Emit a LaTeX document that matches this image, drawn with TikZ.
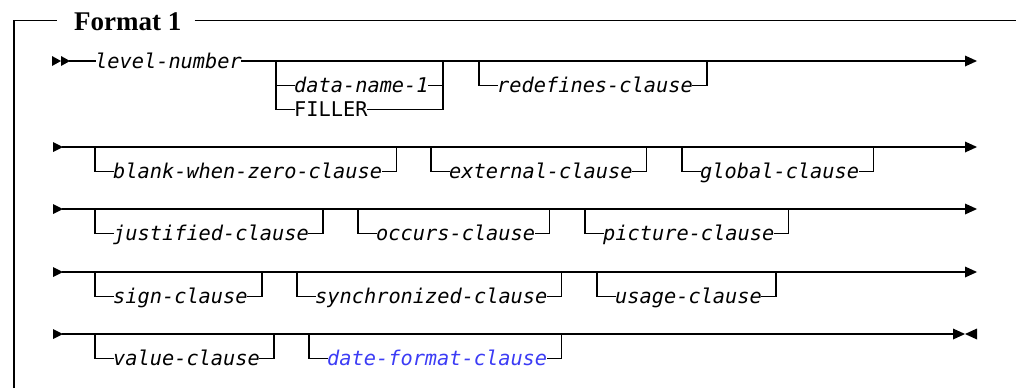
\documentclass[tikz,border=0pt]{standalone}
\usepackage{fontspec}
\newfontfamily\synfont{DejaVu Sans Mono}
\newfontfamily\ttlfont{Liberation Serif}
\definecolor{linkblue}{RGB}{60,60,245}
\tikzset{
  lbl/.style={font=\synfont\itshape\fontsize{20.3}{24}\selectfont, inner sep=0pt,
              text height=14pt, text depth=0pt, anchor=west},
  kw/.style={lbl, font=\synfont\upshape\fontsize{20.3}{24}\selectfont},
  rail/.style={line width=1.4pt, line cap=rect, line join=miter},
  framerule/.style={line width=1.5pt},
  tip/.style={fill=black}
}
\newcommand\optitem[5][]{% [text colour] name, left x, main y, text
  \node[lbl,#1] (#2) at (#3+18,#4+24.5) {#5};
  \draw[rail] (#2.west) -- ++(-18,0) -- ++(0,-24.5);
  \draw[rail] (#2.east) -- ++(14,0) -- ++(0,-24.5);
}
\newcommand\railstart[1]{% main y
  \fill[tip] (53,#1-5) -- (63,#1) -- (53,#1+5) -- cycle;
}
\newcommand\railcont[1]{% main y
  \fill[tip] (965,#1-5.5) -- (977,#1) -- (965,#1+5.5) -- cycle;
}
\begin{document}
\begin{tikzpicture}[x=1pt,y=-1pt]
\useasboundingbox (0,0) rectangle (1016,388);
% frame and title
\node[font=\ttlfont\bfseries\fontsize{27}{30}\selectfont, inner sep=0pt, anchor=base west]
  (title) at (74,30) {Format 1};
\coordinate (fbl) at (14,388);
\coordinate (ftl) at (14,20.7);
\draw[framerule] (fbl) -- (ftl) -- ([xshift=-17pt]title.west |- ftl);
\draw[framerule] ([xshift=13pt]title.east |- ftl) -- (1016,20.7);

% ---- row 1 ----
\fill[tip] (52,56) -- (61,61) -- (52,66) -- cycle;
\fill[tip] (61,56) -- (70,61) -- (61,66) -- cycle;
\coordinate (s1) at (70,61);
\node[lbl] (lvl) at (95,61) {level-number};
\coordinate (e1) at (965,61);
\draw[rail] (s1) -- (lvl.west);
\draw[rail] (lvl.east) -- (e1);
\railcont{61}
\coordinate (chl) at (276,61);
\coordinate (chr) at (443,61);
\node[lbl] (dn) at (294,85.5) {data-name-1};
\node[kw] (fil) at (294,109.5) {FILLER};
\draw[rail] (chl) |- (fil.west);
\draw[rail] (dn.west) -- (dn.west -| chl);
\draw[rail] (dn.east) -- (dn.east -| chr);
\draw[rail] (fil.east) -| (chr);
\optitem{redef}{479}{61}{redefines-clause}

% ---- row 2 ----
\railstart{147}
\coordinate (s2) at (63,147);
\coordinate (e2) at (965,147);
\draw[rail] (s2) -- (e2);
\railcont{147}
\optitem{blank}{95}{147}{blank-when-zero-clause}
\optitem{ext}{431}{147}{external-clause}
\optitem{glob}{682}{147}{global-clause}

% ---- row 3 ----
\railstart{209}
\coordinate (s3) at (63,209);
\coordinate (e3) at (965,209);
\draw[rail] (s3) -- (e3);
\railcont{209}
\optitem{just}{95}{209}{justified-clause}
\optitem{occ}{358}{209}{occurs-clause}
\optitem{pic}{585}{209}{picture-clause}

% ---- row 4 ----
\railstart{272}
\coordinate (s4) at (63,272);
\coordinate (e4) at (965,272);
\draw[rail] (s4) -- (e4);
\railcont{272}
\optitem{sign}{95}{272}{sign-clause}
\optitem{sync}{297}{272}{synchronized-clause}
\optitem{usage}{597}{272}{usage-clause}

% ---- row 5 ----
\railstart{334}
\coordinate (s5) at (63,334);
\coordinate (e5) at (953,334);
\draw[rail] (s5) -- (e5);
\fill[tip] (953,328.5) -- (965,334) -- (953,339.5) -- cycle;
\fill[tip] (977,328.5) -- (965,334) -- (977,339.5) -- cycle;
\optitem{val}{95}{334}{value-clause}
\optitem[text=linkblue]{datefmt}{309}{334}{date-format-clause}
\end{tikzpicture}
\end{document}
